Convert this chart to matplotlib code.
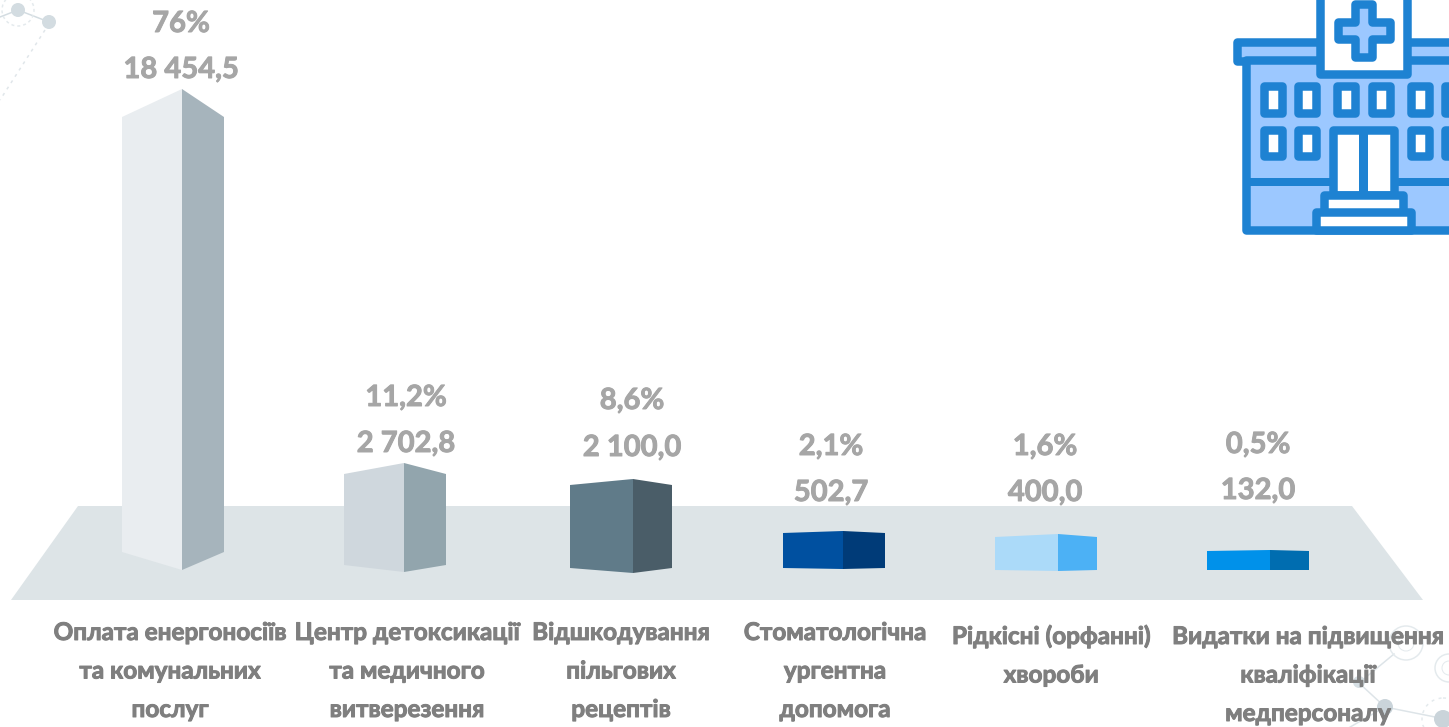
import matplotlib
matplotlib.use("Agg")
import matplotlib.pyplot as plt
import matplotlib.patheffects as pe
from matplotlib.patches import Polygon, Circle, Rectangle

W = 1449
H = 727

categories = [
    ["Оплата енергоносіїв", "та комунальних", "послуг"],
    ["Центр детоксикації", "та медичного", "витверезення"],
    ["Відшкодування", "пільгових", "рецептів"],
    ["Стоматологічна", "ургентна", "допомога"],
    ["Рідкісні (орфанні)", "хвороби"],
    ["Видатки на підвищення", "кваліфікації", "медперсоналу"],
]
amounts = ["18 454,5", "2 702,8", "2 100,0", "502,7", "400,0", "132,0"]
shares = ["76%", "11,2%", "8,6%", "2,1%", "1,6%", "0,5%"]

# drawn height of each bar (not to scale with the amounts)
bar_heights = [481, 109, 94, 38, 37, 20]

# layout, in pixels
bar_left = [122, 344, 570, 783, 995, 1207]
bar_mid = [182, 404, 633, 843, 1058, 1270]
bar_right = [224, 446, 672, 885, 1097, 1309]
bar_bottom = [570, 572, 573, 569, 571, 570]
top_drop = [28, 11, 6, 2, 3, 1]
bottom_rise = [18, 7, 5, 1, 1, 0]
left_colors = ["#E9EDF0", "#CFD7DD", "#607B89", "#0050A0", "#ABDAF9", "#0091EA"]
right_colors = ["#A6B4BC", "#92A5AD", "#4A5D68", "#003B78", "#4CB1F5", "#006DB0"]
value_x = [181, 406, 632, 831, 1045, 1258]
share_base = [32, 406, 409, 455, 455, 453]
amount_base = [78, 452, 456, 501, 501, 499]
label_x = [170, 407, 621, 835, 1051, 1308]
label_base = [640, 640, 640, 640, 644, 644]

BLUE = "#1E82D2"
LIGHT = "#9CC8FF"
DECO = "#D3DCE1"
FONT = ["Lato", "Open Sans", "DejaVu Sans"]

fig = plt.figure(figsize=(W / 100, H / 100), dpi=100)
ax = fig.add_axes([0, 0, 1, 1])
ax.set_xlim(0, W)
ax.set_ylim(H, 0)
ax.axis("off")


def px(n):
    return n * 72 / 100


def deco_line(x, y, ls="-", lw=1.5, c=DECO):
    ax.plot(x, y, color=c, lw=px(lw), ls=ls, zorder=1)


def deco_dot(x, y, r, c=DECO):
    ax.add_patch(Circle((x, y), r, fc=c, ec="none", zorder=1))


def deco_ring(x, y, r, ls="-", lw=1.5, c="#E4EAED"):
    ax.add_patch(Circle((x, y), r, fc="none", ec=c, lw=px(lw), ls=ls, zorder=1))


def heavy_text(x, y, s, color, size):
    # Lato bold is a bit lighter than the original lettering, thicken it
    t = ax.text(x, y, s, ha="center", va="baseline", color=color, fontsize=size,
                fontweight="bold", family=FONT, zorder=5)
    t.set_path_effects([pe.withStroke(linewidth=0.7, foreground=color)])


# background network, top left
deco_line([0, 18, 49], [17, 10, 22])
deco_line([45, 0], [30, 100], ls=(0, (2, 3)), c="#E0E6EA")
deco_dot(18, 10, 7)
deco_dot(49, 22, 7)
deco_ring(18, 10, 16, ls=(0, (2, 2)))

# background network, bottom right
deco_line([1394, 1359, 1385, 1440], [654, 683, 707, 718], c="#DDE4E8")
deco_line([1385, 1345], [707, 730], c="#DDE4E8")
deco_dot(1359, 682, 6, "#D6DFE4")
deco_dot(1385, 707, 8, "#CAD4DA")
deco_dot(1443, 719, 9, "#CAD4DA")
deco_ring(1406, 643, 17)
deco_ring(1406, 643, 8, lw=1)
deco_ring(1449, 668, 14)
deco_ring(1449, 668, 7, lw=1)
deco_ring(1443, 719, 21, ls=(0, (2, 3)))

# floor
ax.add_patch(Polygon([(78, 506), (1352, 506), (1423, 600), (11, 600)],
                     fc="#DDE4E7", ec="none", zorder=2))

# bars
for i in range(len(bar_heights)):
    y_mid_bot = bar_bottom[i]
    y_mid_top = y_mid_bot - bar_heights[i]
    y_side_top = y_mid_top + top_drop[i]
    y_side_bot = y_mid_bot - bottom_rise[i]
    ax.add_patch(Polygon([(bar_left[i], y_side_top), (bar_mid[i], y_mid_top),
                          (bar_mid[i], y_mid_bot), (bar_left[i], y_side_bot)],
                         fc=left_colors[i], ec="none", zorder=3))
    ax.add_patch(Polygon([(bar_mid[i], y_mid_top), (bar_right[i], y_side_top),
                          (bar_right[i], y_side_bot), (bar_mid[i], y_mid_bot)],
                         fc=right_colors[i], ec="none", zorder=3))
    heavy_text(value_x[i], share_base[i], shares[i], "#A6A6A6", 21)
    heavy_text(value_x[i], amount_base[i], amounts[i], "#A6A6A6", 21)
    for j, line in enumerate(categories[i]):
        heavy_text(label_x[i], label_base[i] + j * 38.5, line, "#7F7F7F", 17.5)


# hospital icon
def box(x0, y0, x1, y1, fc, z=6):
    # outer edges given; stroke sits inside them
    s = 8.5
    ax.add_patch(Rectangle((x0 + s / 2, y0 + s / 2), x1 - x0 - s, y1 - y0 - s, fc=fc, ec=BLUE,
                           lw=px(s), joinstyle="round", zorder=z))


box(1233, 38, 1480, 65, LIGHT)
box(1242, 56, 1480, 234, LIGHT)
ax.add_patch(Rectangle((1246, 178), 240, 8, fc=BLUE, ec="none", zorder=6))
box(1316, -20, 1411, 78, "white", z=7)

cross = [(1355, 4), (1372, 4), (1372, 21.5), (1389.5, 21.5), (1389.5, 38.5), (1372, 38.5),
         (1372, 56.5), (1355, 56.5), (1355, 38.5), (1337.5, 38.5), (1337.5, 21.5), (1355, 21.5)]
ax.add_patch(Polygon(cross, fc=LIGHT, ec=BLUE, lw=px(8.5), joinstyle="round", zorder=8))

for wx in [1260, 1294, 1333, 1368, 1407, 1441]:
    box(wx, 82, wx + 26, 117, "white", z=7)
for wx in [1260, 1294, 1407, 1441]:
    box(wx, 126, wx + 26, 160, "white", z=7)

box(1329, 126, 1398, 199, "white", z=7)
ax.add_patch(Rectangle((1359, 130), 9, 65, fc=BLUE, ec="none", zorder=8))
box(1320, 191, 1407, 217, "white", z=8)
box(1312, 208, 1415, 234, "white", z=9)

fig.savefig("out.png", dpi=100, facecolor="white")
